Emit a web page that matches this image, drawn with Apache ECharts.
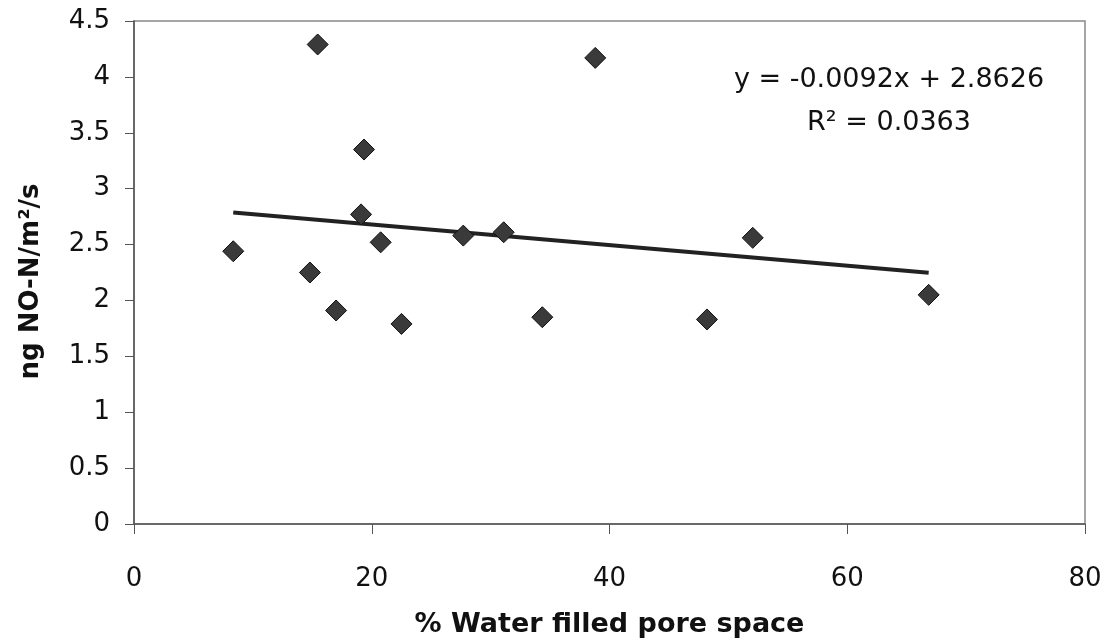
<!DOCTYPE html>
<html>
<head>
<meta charset="utf-8">
<style>html,body{margin:0;padding:0;background:#fff;}#c{width:1114px;height:644px;}</style>
<script src="https://cdn.jsdelivr.net/npm/echarts@6/dist/echarts.min.js"></script>
</head>
<body>
<div id="c"></div>
<script>
// Data
const wfps = [8.35, 14.8, 15.45, 17.0, 19.35, 19.1, 20.75, 22.5, 27.7, 31.1, 34.35, 38.8, 48.2, 52.05, 66.85];
const noFlux = [2.44, 2.25, 4.29, 1.91, 3.35, 2.77, 2.52, 1.79, 2.58, 2.61, 1.85, 4.17, 1.83, 2.56, 2.05];
const trendSlope = -0.0092;
const trendIntercept = 2.8626;
const xTicks = [0, 20, 40, 60, 80];
const yTicks = [0, 0.5, 1, 1.5, 2, 2.5, 3, 3.5, 4, 4.5];
const eqText = 'y = -0.0092x + 2.8626';
const r2Text = 'R² = 0.0363';

const pts = wfps.map((x, i) => [x, noFlux[i]]);
const xMin = Math.min(...wfps), xMax = Math.max(...wfps);
const trend = [[xMin, trendIntercept + trendSlope * xMin], [xMax, trendIntercept + trendSlope * xMax]];

const FONT = '"DejaVu Sans", Arial, sans-serif';
const chart = echarts.init(document.getElementById('c'), null, {renderer: 'canvas'});
chart.setOption({
  animation: false,
  backgroundColor: '#fff',
  grid: {left: 134, right: 29, top: 21, bottom: 120, show: true, borderColor: '#888', borderWidth: 1.5, backgroundColor: 'transparent'},
  xAxis: {
    type: 'value', min: xTicks[0], max: xTicks[xTicks.length - 1], interval: 20,
    name: '% Water filled pore space', nameLocation: 'middle', nameGap: 87,
    nameTextStyle: {fontFamily: FONT, fontSize: 27, fontWeight: 'bold', color: '#111'},
    axisLine: {show: true, lineStyle: {color: '#555', width: 1.5}},
    axisTick: {show: true, inside: false, length: 10, lineStyle: {color: '#555'}},
    splitLine: {show: false},
    axisLabel: {fontFamily: FONT, fontSize: 26, color: '#111', margin: 42}
  },
  yAxis: {
    type: 'value', min: yTicks[0], max: yTicks[yTicks.length - 1], interval: 0.5,
    name: 'ng NO-N/m²/s', nameLocation: 'middle', nameGap: 90, nameRotate: 90,
    nameTextStyle: {fontFamily: FONT, fontSize: 26, fontWeight: 'bold', color: '#111', padding: [0, 18, 0, 0]},
    axisLine: {show: true, lineStyle: {color: '#555', width: 1.5}},
    axisTick: {show: true, inside: false, length: 9, lineStyle: {color: '#555'}},
    splitLine: {show: false},
    axisLabel: {fontFamily: FONT, fontSize: 26, color: '#111', margin: 24}
  },
  series: [
    {
      type: 'line', data: trend, showSymbol: false, symbol: 'none',
      lineStyle: {color: '#222', width: 4}, z: 2, silent: true
    },
    {
      type: 'scatter', data: pts, symbol: 'diamond', symbolSize: 21,
      itemStyle: {color: '#3a3a3a', borderColor: '#111', borderWidth: 1, opacity: 1}, z: 3
    }
  ],
  graphic: [
    {type: 'text', x: 889, y: 80, style: {text: eqText, fontFamily: FONT, fontSize: 27, fill: '#111', align: 'center', verticalAlign: 'middle'}},
    {type: 'text', x: 889, y: 123, style: {text: r2Text, fontFamily: FONT, fontSize: 27, fill: '#111', align: 'center', verticalAlign: 'middle'}}
  ]
});
</script>
</body>
</html>
